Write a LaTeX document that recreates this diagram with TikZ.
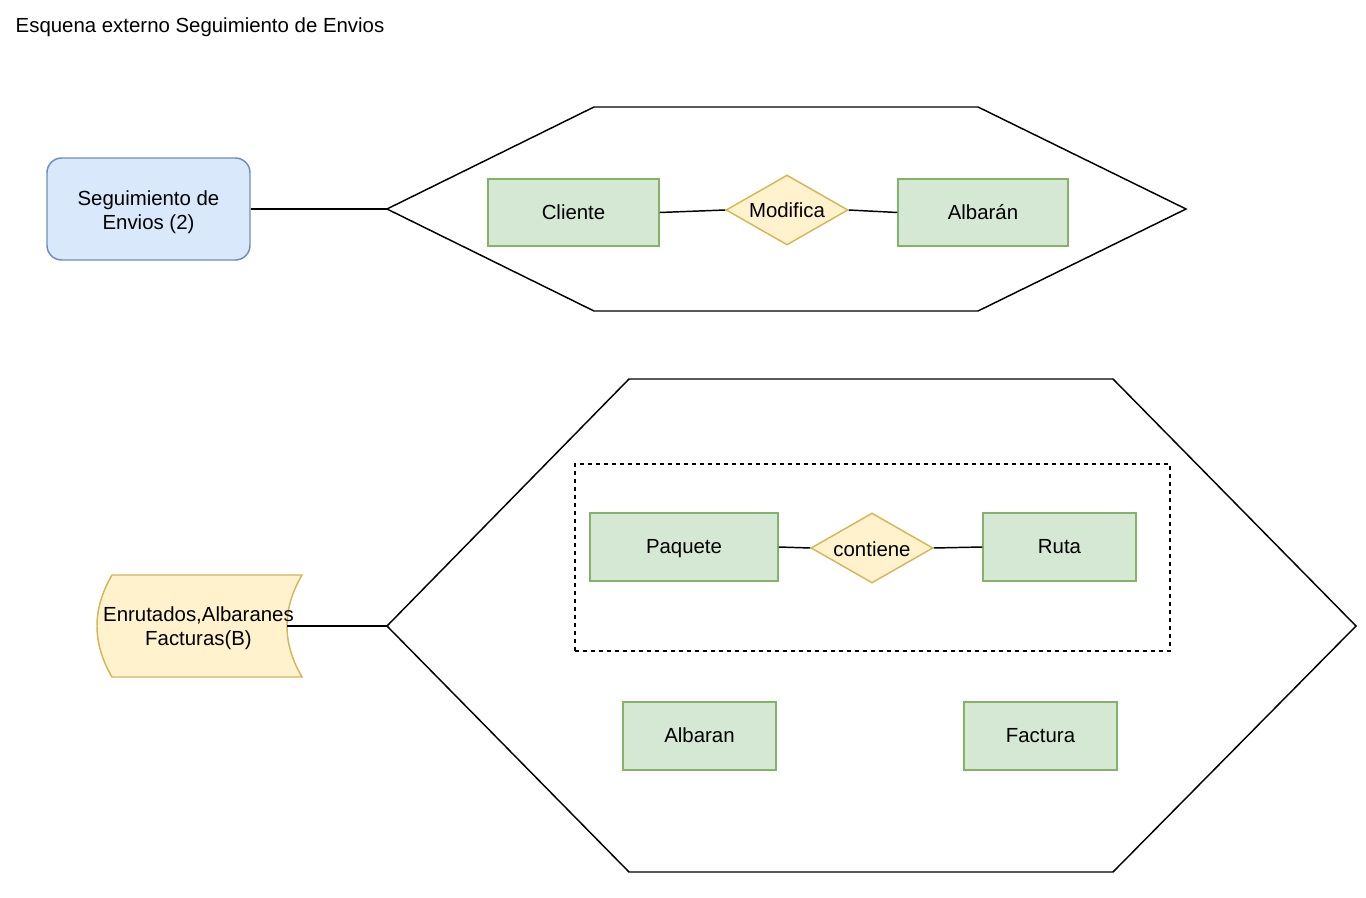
\documentclass[tikz,border=0pt]{standalone}
\usepackage{fontspec}
\setmainfont{Liberation Sans}
\usetikzlibrary{shapes.geometric}

\definecolor{blueFill}{HTML}{DAE8FC}
\definecolor{blueLine}{HTML}{6C8EBF}
\definecolor{greenFill}{HTML}{D5E8D4}
\definecolor{greenLine}{HTML}{82B366}
\definecolor{yellowFill}{HTML}{FFF2CC}
\definecolor{yellowLine}{HTML}{D6B656}

\tikzset{
  base/.style={line width=1.1pt, font=\fontsize{15.3}{18}\selectfont, align=center, inner sep=0pt},
  oneline/.style={text height=1.0em, text depth=0.0em},
  entity/.style={base, oneline, draw=greenLine, fill=greenFill, rectangle},
  relation/.style={base, text height=1.2em, text depth=0.0em, draw=yellowLine, fill=yellowFill,
    diamond, aspect=1.743, minimum width={122*0.75pt}, minimum height={70*0.75pt}},
  viewbox/.style={base, draw=blueLine, fill=blueFill, rounded corners=11pt,
    minimum width={203*0.75pt}, minimum height={102*0.75pt}},
  grpbox/.style={draw, line width=1.1pt, dash pattern=on 3pt off 3pt},
  hexline/.style={draw, line width=1.1pt},
  link/.style={draw, line width=1.1pt},
}

\begin{document}
\begin{tikzpicture}[x=0.75pt, y=-0.75pt]
\useasboundingbox (0,0) rectangle (1366,898);

% title
\node[base, anchor=west] (title) at (15,27) {Esquena externo Seguimiento de Envios};

% ---------- upper view ----------
\node[viewbox, minimum height={102*0.75pt}] (seg) at (148.5,209) {};
\node[base] (segtext) at (148.5,212) {Seguimiento de\\Envios (2)};

\coordinate (hexAw) at (387,209);
\path[hexline] (hexAw) -- (594,107) -- (978,107) -- (1186,209) -- (978,311) -- (594,311) -- cycle;

\node[entity, minimum width={171*0.75pt}, minimum height={67*0.75pt}] (cliente) at (573.5,212.5) {Cliente};
\node[relation] (modifica) at (787,210) {Modifica};
\node[entity, minimum width={170*0.75pt}, minimum height={67*0.75pt}] (albaranA) at (983,212.5) {Albarán};

\draw[link] (seg.east) -- (hexAw);
\draw[link] (cliente.east) -- (modifica.west);
\draw[link] (modifica.east) -- (albaranA.west);

% ---------- lower view ----------
% data storage shape
\path[draw=yellowLine, fill=yellowFill, line width=1.1pt]
  (112,575) -- (302,575)
  .. controls (282,609) and (282,643) .. (302,677)
  -- (112,677)
  .. controls (92,643) and (92,609) .. (112,575) -- cycle;
\node[base] (store) at (198.5,628) {Enrutados,Albaranes\\Facturas(B)};
\coordinate (storeR) at (287,626);

\coordinate (hexBw) at (387,626);
\path[hexline] (hexBw) -- (629,379) -- (1113,379) -- (1356,626) -- (1113,872) -- (629,872) -- cycle;

\node[grpbox, minimum width={595*0.75pt}, minimum height={187*0.75pt}] (grp) at (872.5,557.5) {};

\node[entity, minimum width={188*0.75pt}, minimum height={68*0.75pt}] (paquete) at (684,547) {Paquete};
\node[relation] (contiene) at (872,548) {contiene};
\node[entity, minimum width={153*0.75pt}, minimum height={68*0.75pt}] (ruta) at (1059.5,547) {Ruta};

\node[entity, minimum width={153*0.75pt}, minimum height={68*0.75pt}] (albaranB) at (699.5,736) {Albaran};
\node[entity, minimum width={153*0.75pt}, minimum height={68*0.75pt}] (factura) at (1040.5,736) {Factura};

\draw[link] (storeR) -- (hexBw);
\draw[link] (paquete.east) -- (contiene.west);
\draw[link] (contiene.east) -- (ruta.west);
\end{tikzpicture}
\end{document}
